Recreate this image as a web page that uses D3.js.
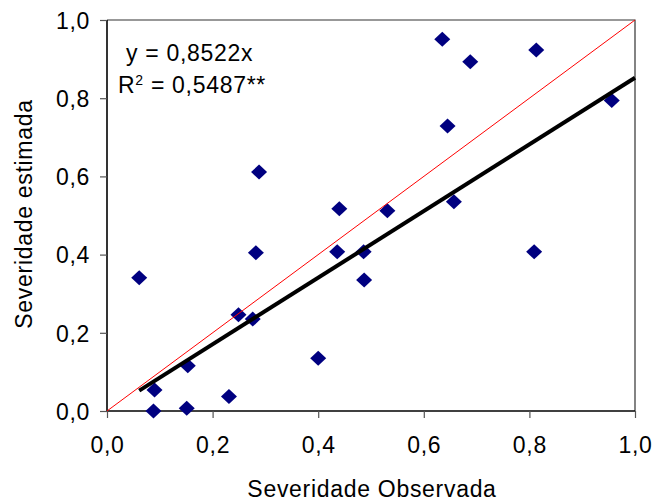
<!DOCTYPE html>
<html>
<head>
<meta charset="utf-8">
<script src="https://cdn.jsdelivr.net/npm/d3@7"></script>
<style>
  body { margin: 0; background: #fff; }
  svg { display: block; }
  text { font-family: "Liberation Sans", Arial, sans-serif; fill: #000; }
</style>
</head>
<body>
<svg id="chart" width="656" height="502"></svg>
<script>
// Observed vs. estimated severity
const observed = [0.061, 0.090, 0.088, 0.153, 0.151, 0.231, 0.249, 0.276, 0.282, 0.288,
                  0.400, 0.440, 0.436, 0.486, 0.487, 0.531, 0.635, 0.688, 0.645, 0.657,
                  0.813, 0.809, 0.956];
const estimated = [0.341, 0.054, 0.000, 0.116, 0.007, 0.037, 0.246, 0.235, 0.405, 0.611,
                   0.135, 0.517, 0.407, 0.407, 0.335, 0.512, 0.951, 0.893, 0.729, 0.535,
                   0.923, 0.407, 0.794];
const slope = 0.8522;
const r2Label = "0,5487**";
const xTicks = [0, 0.2, 0.4, 0.6, 0.8, 1.0];
const yTicks = [0, 0.2, 0.4, 0.6, 0.8, 1.0];
const xTitle = "Severidade Observada";
const yTitle = "Severidade estimada";

const fmt = v => d3.format(".1f")(v).replace(".", ",");

const svg = d3.select("#chart");
const plot = { left: 107, top: 20, right: 635, bottom: 411 };

const x = d3.scaleLinear().domain([0, 1]).range([plot.left, plot.right]);
const y = d3.scaleLinear().domain([0, 1]).range([plot.bottom, plot.top]);

const fontSize = 23;
const spacing = 0.7;

// top and right frame
svg.append("path")
  .attr("d", `M${plot.left},${plot.top}H${plot.right}V${plot.bottom}`)
  .attr("fill", "none").attr("stroke", "#333").attr("stroke-width", 1.2);

// axes
const xAxis = d3.axisBottom(x).tickValues(xTicks).tickSize(7).tickFormat(fmt);
const yAxis = d3.axisLeft(y).tickValues(yTicks).tickSize(7).tickFormat(fmt);

const gx = svg.append("g").attr("transform", `translate(0,${plot.bottom})`).call(xAxis);
const gy = svg.append("g").attr("transform", `translate(${plot.left},0)`).call(yAxis);

[gx, gy].forEach(g => {
  g.select(".domain").attr("stroke", "#000").attr("stroke-width", 1.6);
  g.selectAll(".tick line").attr("stroke", "#555").attr("stroke-width", 1.2);
  g.selectAll("text")
    .style("font-family", "'Liberation Sans', Arial, sans-serif")
    .style("font-size", fontSize + "px")
    .style("letter-spacing", spacing + "px")
    .attr("fill", "#000");
});
gx.select(".domain").attr("d", `M${plot.left},0H${plot.right}`);
gy.select(".domain").attr("d", `M0,${plot.bottom}V${plot.top}`);
gx.selectAll(".tick text").attr("y", 0).attr("dy", null).attr("transform", "translate(0,42)");
gy.selectAll(".tick text").attr("x", -17).attr("dy", "0.36em");

// data points (diamonds)
const diamond = "M0,-7.5L8,0L0,7.5L-8,0Z";
svg.append("g").selectAll("path")
  .data(observed.map((o, i) => [o, estimated[i]]))
  .join("path")
  .attr("d", diamond)
  .attr("transform", d => `translate(${x(d[0])},${y(d[1])})`)
  .attr("fill", "#000080");

// 1:1 line
svg.append("line")
  .attr("x1", x(0)).attr("y1", y(0)).attr("x2", x(1)).attr("y2", y(1))
  .attr("stroke", "#ff0000").attr("stroke-width", 1);

// fitted line through origin
const x0 = d3.min(observed);
svg.append("line")
  .attr("x1", x(x0)).attr("y1", y(slope * x0))
  .attr("x2", x(1)).attr("y2", y(slope * 1))
  .attr("stroke", "#000").attr("stroke-width", 4);

// equation
const eq = svg.append("g")
  .style("font-size", fontSize + "px")
  .style("letter-spacing", spacing + "px");
eq.append("text").attr("x", 126).attr("y", 61)
  .text("y = " + String(slope).replace(".", ",") + "x");
const r2 = eq.append("text").attr("x", 118).attr("y", 93);
r2.append("tspan").text("R");
r2.append("tspan").attr("dy", -8).style("font-size", "14px").text("2");
r2.append("tspan").attr("dy", 8).text(" = " + r2Label);

// axis titles
svg.append("text")
  .attr("x", (plot.left + plot.right) / 2 + 1).attr("y", 497)
  .attr("text-anchor", "middle")
  .style("font-size", fontSize + "px")
  .style("letter-spacing", spacing + "px")
  .text(xTitle);

svg.append("text")
  .attr("transform", "translate(32,214) rotate(-90)")
  .attr("text-anchor", "middle")
  .style("font-size", fontSize + "px")
  .style("letter-spacing", spacing + "px")
  .text(yTitle);
</script>
</body>
</html>
